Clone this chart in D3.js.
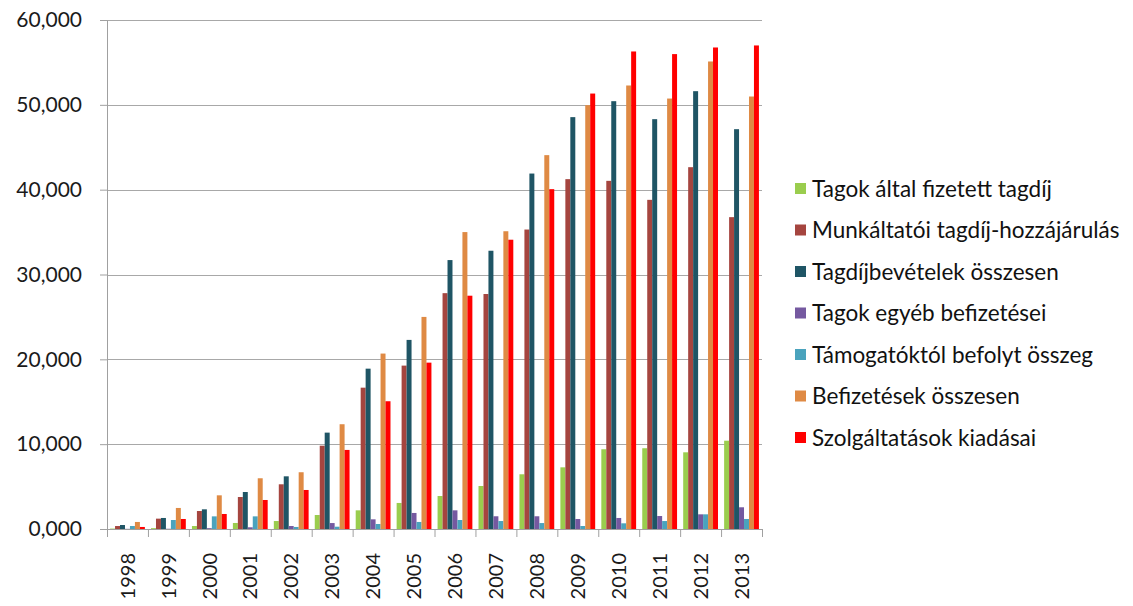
<!DOCTYPE html>
<html>
<head>
<meta charset="utf-8">
<script src="https://cdn.jsdelivr.net/npm/d3@7"></script>
<style>
  body { margin: 0; background: #fff; }
  svg, svg text { font-family: Lato, "Open Sans", sans-serif; }
  .grid line { stroke: #a8a8a8; }
  .axis path, .axis line { stroke: #a0a0a0; }
  .axis text { fill: #1a1a1a; }
</style>
</head>
<body>
<div id="chart"></div>
<script>
// values
const years = ["1998","1999","2000","2001","2002","2003","2004","2005",
               "2006","2007","2008","2009","2010","2011","2012","2013"];
const seriesNames = [
  "Tagok által fizetett tagdíj",
  "Munkáltatói tagdíj-hozzájárulás",
  "Tagdíjbevételek összesen",
  "Tagok egyéb befizetései",
  "Támogatóktól befolyt összeg",
  "Befizetések összesen",
  "Szolgáltatások kiadásai"
];
const seriesColors = ["#9acd4e", "#a5453f", "#1f5565", "#7559a0", "#4aa3bd", "#df8a44", "#ff0000"];

const tagokTagdij   = [50, 100, 350, 710, 940, 1650, 2200, 3070, 3890, 5070, 6450, 7270, 9400, 9520, 9040, 10410];
const munkaltatoi   = [350, 1220, 2120, 3770, 5270, 9820, 16660, 19260, 27800, 27700, 35300, 41240, 41040, 38800, 42650, 36760];
const tagdijOsszes  = [470, 1300, 2320, 4360, 6210, 11360, 18900, 22290, 31700, 32800, 41900, 48550, 50430, 48310, 51610, 47130];
const egyebBefiz    = [20, 30, 100, 200, 350, 700, 1140, 1890, 2200, 1500, 1500, 1180, 1300, 1530, 1730, 2560];
const tamogatok     = [350, 1060, 1490, 1490, 240, 270, 590, 830, 1060, 940, 700, 350, 670, 940, 1730, 1180];
const befizOsszes   = [830, 2480, 3970, 5980, 6690, 12350, 20680, 25000, 35000, 35100, 44070, 49960, 52280, 50740, 55110, 50980];
const szolgaltatas  = [240, 1180, 1770, 3420, 4600, 9320, 15060, 19610, 27500, 34100, 40060, 51330, 56290, 55980, 56760, 57000];

const yTicks = [0, 10000, 20000, 30000, 40000, 50000, 60000];

const seriesValues = [tagokTagdij, munkaltatoi, tagdijOsszes, egyebBefiz, tamogatok, befizOsszes, szolgaltatas];

const width = 1133, height = 606;
const margin = {top: 20, right: 371, bottom: 77, left: 107};
const w = width - margin.left - margin.right;
const h = height - margin.top - margin.bottom;
const font = "Lato, 'Open Sans', sans-serif";

const svg = d3.select("#chart").append("svg")
    .attr("width", width)
    .attr("height", height);

const chart = svg.append("g")
    .attr("transform", `translate(${margin.left},${margin.top})`);

const x0 = d3.scaleBand().domain(years).range([0, w])
    .paddingInner(0.15).paddingOuter(0.075);
const x1 = d3.scaleBand().domain(d3.range(seriesNames.length)).range([0, x0.bandwidth()]);
const y = d3.scaleLinear().domain([0, 60000]).range([h, 0]);
const xEdges = d3.scaleLinear().domain([0, years.length]).range([0, w]);

// gridlines
chart.append("g").attr("class", "grid")
  .selectAll("line")
  .data(yTicks.filter(d => d > 0))
  .join("line")
    .attr("x1", 0).attr("x2", w)
    .attr("y1", d => Math.round(y(d)) + 0.5)
    .attr("y2", d => Math.round(y(d)) + 0.5);

// bars
const groups = chart.selectAll(".year")
  .data(years)
  .join("g")
    .attr("class", "year")
    .attr("transform", d => `translate(${x0(d)},0)`);

groups.selectAll("rect")
  .data((d, i) => seriesValues.map((vals, s) => ({s, v: vals[i]})))
  .join("rect")
    .attr("x", d => x1(d.s))
    .attr("width", x1.bandwidth())
    .attr("y", d => y(d.v))
    .attr("height", d => h - y(d.v))
    .attr("fill", d => seriesColors[d.s]);

// y axis
chart.append("g").attr("class", "axis")
    .call(d3.axisLeft(y).tickValues(yTicks).tickSize(7).tickPadding(18)
      .tickFormat(d => (d / 1000).toFixed(3).replace(".", ",")))
    .attr("font-family", font)
    .attr("font-size", 21);

// x axis: boundary ticks
chart.append("g").attr("class", "axis")
    .attr("transform", `translate(0,${h})`)
    .call(d3.axisBottom(xEdges).ticks(years.length).tickSize(8).tickFormat(""))
    .call(g => g.select(".domain").attr("d", `M0,0.5H${w}`));

// x labels (rotated)
chart.append("g").attr("class", "axis")
    .attr("transform", `translate(0,${h})`)
    .call(d3.axisBottom(x0).tickSize(0).tickPadding(0))
    .attr("font-family", font)
    .attr("font-size", 20)
    .call(g => g.select(".domain").remove())
    .selectAll("text")
      .attr("transform", "rotate(-90)")
      .attr("x", -24)
      .attr("y", 0)
      .attr("dy", "0.36em")
      .style("text-anchor", "end");

// legend
const legend = svg.append("g")
    .attr("transform", "translate(795,189)");

const items = legend.selectAll("g")
  .data(seriesNames)
  .join("g")
    .attr("transform", (d, i) => `translate(0,${i * 41.5})`);

items.append("rect")
    .attr("x", 0).attr("y", -6)
    .attr("width", 11).attr("height", 11)
    .attr("fill", (d, i) => seriesColors[i]);

items.append("text")
    .attr("x", 17)
    .attr("dy", "0.35em")
    .style("font-size", "22.5px")
    .attr("fill", "#111")
    .text(d => d);
</script>
</body>
</html>
